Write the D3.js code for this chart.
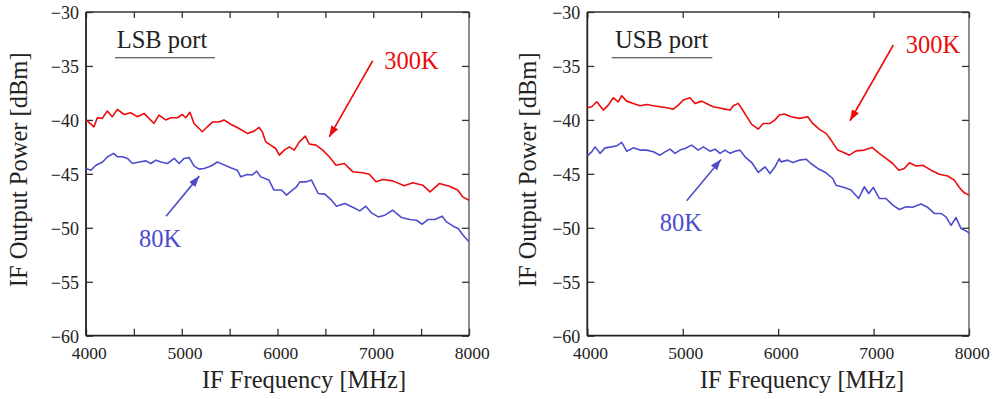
<!DOCTYPE html>
<html><head><meta charset="utf-8">
<script src="https://cdn.jsdelivr.net/npm/d3@7"></script>
<style>
body{margin:0;background:#fff}
svg{display:block}
text{font-family:"Liberation Serif","Times New Roman",serif;fill:#222}
</style>
</head><body>
<svg id="chart" width="994" height="399" font-family="Liberation Serif, Times New Roman, serif"></svg>
<script>
// ---------- data ----------
const xDomain = [4000, 8000];
const yDomain = [-60, -30];
const xTickLabels = [4000, 5000, 6000, 7000, 8000];
const xMinorTicks = [4500, 5500, 6500, 7500];
const yTickLabels = [-30, -35, -40, -45, -50, -55, -60];
const seriesNames = ["300K", "80K"];
const panelTitles = ["LSB port", "USB port"];
const xAxisTitle = "IF Frequency [MHz]";
const yAxisTitle = "IF Output Power [dBm]";

// LSB port, 300 K  [frequency MHz, power dBm]
const lsb300 = [
[4000,-40.0],[4084,-40.64],[4118,-39.8],[4170,-39.86],[4222,-39.18],[4275,-39.7],[4327,-39.03],
[4397,-39.5],[4467,-39.34],[4536,-39.7],[4606,-39.4],[4710,-40.33],[4762,-39.55],[4832,-40.0],
[4885,-39.8],[4954,-39.8],[5006,-39.5],[5041,-39.8],[5086,-39.3],[5128,-40.33],[5215,-41.1],
[5267,-40.64],[5319,-40.2],[5389,-40.2],[5441,-40.0],[5511,-40.4],[5580,-40.7],[5685,-41.25],
[5755,-41.04],[5807,-40.7],[5841,-41.1],[5877,-42.03],[5929,-42.34],[5981,-42.65],[6019,-43.27],
[6071,-42.8],[6123,-42.5],[6175,-42.8],[6228,-42.03],[6290,-41.5],[6332,-42.24],[6402,-42.34],
[6472,-42.8],[6541,-43.42],[6611,-44.2],[6698,-44.04],[6785,-44.8],[6890,-44.9],[6959,-45.03],
[7029,-45.74],[7099,-45.52],[7203,-45.65],[7324,-46.1],[7412,-45.83],[7517,-46.05],[7593,-46.67],
[7690,-45.9],[7794,-46.14],[7882,-46.5],[7934,-47.13],[8000,-47.44]
];
// LSB port, 80 K
const lsb80 = [
[4000,-44.5],[4052,-44.66],[4104,-44.2],[4173,-43.9],[4225,-43.42],[4288,-43.1],[4329,-43.42],
[4381,-43.42],[4433,-43.57],[4486,-44.04],[4556,-43.9],[4626,-43.8],[4678,-44.04],[4730,-43.73],
[4782,-43.9],[4851,-44.04],[4921,-43.57],[4973,-44.04],[5025,-43.57],[5077,-43.5],[5128,-44.26],
[5181,-44.56],[5233,-44.5],[5285,-44.35],[5319,-44.2],[5372,-43.9],[5424,-44.1],[5511,-44.44],
[5580,-44.66],[5616,-45.28],[5685,-45.06],[5737,-45.1],[5783,-44.75],[5824,-45.28],[5911,-45.58],
[5963,-46.5],[6042,-46.5],[6094,-46.97],[6146,-46.57],[6198,-46.2],[6233,-45.74],[6303,-45.74],
[6355,-45.58],[6425,-46.82],[6494,-46.88],[6564,-47.44],[6616,-48.0],[6703,-47.75],[6791,-48.12],
[6860,-48.43],[6922,-48.0],[6982,-48.62],[7052,-48.99],[7121,-48.83],[7202,-48.37],[7296,-49.05],
[7382,-49.23],[7452,-49.3],[7512,-49.67],[7574,-49.23],[7643,-49.23],[7720,-48.92],[7765,-49.45],
[7835,-49.85],[7887,-50.07],[7939,-50.69],[8000,-51.3]
];
// USB port, 300 K
const usb300 = [
[4000,-38.88],[4046,-38.78],[4099,-38.32],[4168,-39.09],[4220,-38.63],[4272,-37.95],[4325,-38.32],
[4361,-37.76],[4413,-38.26],[4482,-38.47],[4552,-38.69],[4623,-38.57],[4692,-38.69],[4762,-38.78],
[4832,-38.88],[4901,-39.0],[4954,-38.63],[5006,-38.16],[5076,-37.95],[5129,-38.47],[5199,-38.26],
[5268,-38.57],[5320,-38.78],[5373,-38.88],[5443,-39.0],[5496,-39.09],[5530,-38.69],[5582,-38.47],
[5618,-38.94],[5671,-39.7],[5723,-40.42],[5792,-40.85],[5844,-40.33],[5915,-40.33],[5967,-40.0],
[6012,-39.55],[6065,-39.46],[6135,-39.7],[6222,-39.86],[6310,-39.7],[6363,-40.33],[6432,-40.88],
[6502,-41.25],[6554,-41.87],[6624,-42.8],[6693,-43.05],[6746,-43.27],[6816,-42.87],[6903,-42.8],
[6984,-42.55],[7060,-43.1],[7130,-43.57],[7201,-44.04],[7264,-44.66],[7322,-44.5],[7375,-43.98],
[7445,-44.28],[7515,-44.2],[7602,-44.66],[7689,-45.03],[7777,-45.2],[7846,-45.58],[7899,-46.26],
[7951,-46.76],[8000,-46.97]
];
// USB port, 80 K
const usb80 = [
[4000,-43.33],[4046,-42.96],[4081,-42.5],[4133,-43.1],[4186,-42.59],[4256,-42.5],[4308,-42.4],
[4361,-42.09],[4413,-42.9],[4482,-42.59],[4552,-42.8],[4623,-42.8],[4692,-42.96],[4762,-43.27],
[4815,-42.96],[4867,-42.71],[4919,-43.1],[4972,-42.8],[5024,-42.65],[5094,-42.34],[5163,-42.8],
[5216,-42.5],[5286,-42.9],[5338,-42.71],[5391,-43.1],[5443,-42.8],[5496,-43.1],[5548,-42.9],
[5600,-42.8],[5653,-43.42],[5723,-43.95],[5792,-44.87],[5862,-44.35],[5915,-44.97],[5967,-44.35],
[6012,-43.6],[6030,-43.89],[6100,-43.73],[6153,-43.95],[6222,-43.73],[6292,-43.64],[6344,-44.04],
[6415,-44.5],[6502,-44.9],[6572,-45.43],[6606,-46.05],[6693,-46.26],[6764,-46.5],[6844,-47.28],
[6903,-46.2],[6949,-46.82],[6997,-46.26],[7060,-47.28],[7130,-47.28],[7201,-47.9],[7270,-48.3],
[7340,-48.06],[7410,-48.1],[7497,-47.8],[7567,-48.1],[7637,-48.67],[7707,-48.67],[7759,-48.99],
[7812,-49.77],[7864,-49.05],[7917,-50.07],[7987,-50.38],[8000,-50.53]
];

// annotation anchors in data units
const lsbTitleAt = [4321, -33.34];
const lsbUnderline = [4303, 5347, -34.24];
const lsbHotLabelAt = [7115, -35.29];
const lsbHotArrow = [[6994, -34.52], [6541, -41.57]];
const lsbColdLabelAt = [4554, -51.77];
const lsbColdArrow = [[4836, -48.92], [5183, -45.21]];

const usbTitleAt = [4290, -33.34];
const usbUnderline = [4256, 5310, -34.24];
const usbHotLabelAt = [7337, -33.78];
const usbHotArrow = [[7207, -33.06], [6753, -40.08]];
const usbColdLabelAt = [4759, -50.32];
const usbColdArrow = [[5042, -47.5], [5401, -43.66]];

// ---------- drawing ----------
const FONT = '"Liberation Serif","Times New Roman",serif';
const RED = "#ec0c0c", BLUE = "#4d4dcc";
const svg = d3.select("#chart");

const defs = svg.append("defs");
[["ahRed", RED], ["ahBlue", BLUE]].forEach(([id, c]) => {
  defs.append("marker").attr("id", id)
    .attr("markerUnits", "userSpaceOnUse")
    .attr("viewBox", "0 0 11 8").attr("refX", 11).attr("refY", 4)
    .attr("markerWidth", 11).attr("markerHeight", 8).attr("orient", "auto")
    .append("path").attr("d", "M0,0 L11,4 L0,8 Z").attr("fill", c);
});

const panels = [
  { x0: 86, x1: 469, minor: true, title: panelTitles[0], series: [lsb300, lsb80],
    titleAt: lsbTitleAt, underline: lsbUnderline, hotAt: lsbHotLabelAt, hotArrow: lsbHotArrow,
    coldAt: lsbColdLabelAt, coldArrow: lsbColdArrow, yTitleX: 27, xTitleX: 304 },
  { x0: 587.3, x1: 969, minor: false, title: panelTitles[1], series: [usb300, usb80],
    titleAt: usbTitleAt, underline: usbUnderline, hotAt: usbHotLabelAt, hotArrow: usbHotArrow,
    coldAt: usbColdLabelAt, coldArrow: usbColdArrow, yTitleX: 536, xTitleX: 802 }
];
const yTop = 12, yBot = 335.7;

panels.forEach(p => {
  const x = d3.scaleLinear().domain(xDomain).range([p.x0, p.x1]);
  const y = d3.scaleLinear().domain(yDomain).range([yBot, yTop]);
  const g = svg.append("g");

  // frame
  g.append("line").attr("x1", p.x0).attr("x2", p.x1).attr("y1", yTop).attr("y2", yTop)
    .attr("stroke", "#333").attr("stroke-width", 1.3);
  g.append("line").attr("x1", p.x1).attr("x2", p.x1).attr("y1", yTop).attr("y2", yBot)
    .attr("stroke", "#444").attr("stroke-width", 1.2);

  const tickStyle = sel => {
    sel.attr("font-family", FONT);
    sel.select(".domain").remove();
    sel.selectAll(".tick line").attr("stroke", "#333").attr("stroke-width", 1.3);
    sel.selectAll(".tick text").attr("font-family", FONT).style("font-family", FONT)
      .attr("fill", "#222");
  };
  const xt = p.minor ? xTickLabels.concat(xMinorTicks) : xTickLabels;

  // bottom
  const bx = g.append("g").attr("transform", `translate(0,${yBot})`)
    .call(d3.axisBottom(x).tickValues(xTickLabels).tickSizeInner(-7).tickSizeOuter(0).tickPadding(11).tickFormat(d3.format("d")));
  tickStyle(bx);
  bx.selectAll(".tick text").attr("font-size", 17.5).attr("dx", "0.15em");
  if (p.minor) {
    const bm = g.append("g").attr("transform", `translate(0,${yBot})`)
      .call(d3.axisBottom(x).tickValues(xMinorTicks).tickSizeInner(-7).tickSizeOuter(0).tickFormat(""));
    tickStyle(bm);
  }
  // top
  const tx = g.append("g").attr("transform", `translate(0,${yTop})`)
    .call(d3.axisTop(x).tickValues(xt).tickSizeInner(-6).tickSizeOuter(0).tickFormat(""));
  tickStyle(tx);
  // left
  const ly = g.append("g").attr("transform", `translate(${p.x0},0)`)
    .call(d3.axisLeft(y).tickValues(yTickLabels).tickSizeInner(-7).tickSizeOuter(0).tickPadding(7).tickFormat(d3.format("d")));
  tickStyle(ly);
  ly.selectAll(".tick text").attr("font-size", 18).attr("dy", "0.36em");
  // right
  const ry = g.append("g").attr("transform", `translate(${p.x1},0)`)
    .call(d3.axisRight(y).tickValues(yTickLabels).tickSizeInner(-7).tickSizeOuter(0).tickFormat(""));
  tickStyle(ry);

  // main axis lines
  g.append("line").attr("x1", p.x0).attr("x2", p.x1).attr("y1", yBot).attr("y2", yBot)
    .attr("stroke", "#222").attr("stroke-width", 1.8);
  g.append("line").attr("x1", p.x0).attr("x2", p.x0).attr("y1", yTop).attr("y2", yBot)
    .attr("stroke", "#222").attr("stroke-width", 1.8);

  // curves
  const line = d3.line().x(d => x(d[0])).y(d => y(d[1]));
  [RED, BLUE].forEach((c, i) => {
    g.append("path").datum(p.series[i]).attr("d", line)
      .attr("fill", "none").attr("stroke", c).attr("stroke-width", 1.6)
      .attr("stroke-linejoin", "round");
  });

  // title + underline
  g.append("text").attr("x", x(p.titleAt[0])).attr("y", y(p.titleAt[1]))
    .attr("font-size", 24.5).text(p.title);
  g.append("line").attr("x1", x(p.underline[0])).attr("x2", x(p.underline[1]))
    .attr("y1", y(p.underline[2])).attr("y2", y(p.underline[2]))
    .attr("stroke", "#333").attr("stroke-width", 1.2);

  // series labels and arrows
  g.append("text").attr("x", x(p.hotAt[0])).attr("y", y(p.hotAt[1]))
    .attr("font-size", 24.5).style("fill", RED).text(seriesNames[0]);
  g.append("line").attr("x1", x(p.hotArrow[0][0])).attr("y1", y(p.hotArrow[0][1]))
    .attr("x2", x(p.hotArrow[1][0])).attr("y2", y(p.hotArrow[1][1]))
    .attr("stroke", RED).attr("stroke-width", 1.6).attr("marker-end", "url(#ahRed)");
  g.append("text").attr("x", x(p.coldAt[0])).attr("y", y(p.coldAt[1]))
    .attr("font-size", 24.5).style("fill", BLUE).text(seriesNames[1]);
  g.append("line").attr("x1", x(p.coldArrow[0][0])).attr("y1", y(p.coldArrow[0][1]))
    .attr("x2", x(p.coldArrow[1][0])).attr("y2", y(p.coldArrow[1][1]))
    .attr("stroke", BLUE).attr("stroke-width", 1.6).attr("marker-end", "url(#ahBlue)");

  // axis titles
  g.append("text").attr("x", p.xTitleX).attr("y", 388).attr("text-anchor", "middle")
    .attr("font-size", 24.5).text(xAxisTitle);
  g.append("text").attr("transform", `translate(${p.yTitleX},${(yTop + yBot) / 2 - 4}) rotate(-90)`)
    .attr("text-anchor", "middle").attr("font-size", 24.5).text(yAxisTitle);
});
</script>
</body></html>
